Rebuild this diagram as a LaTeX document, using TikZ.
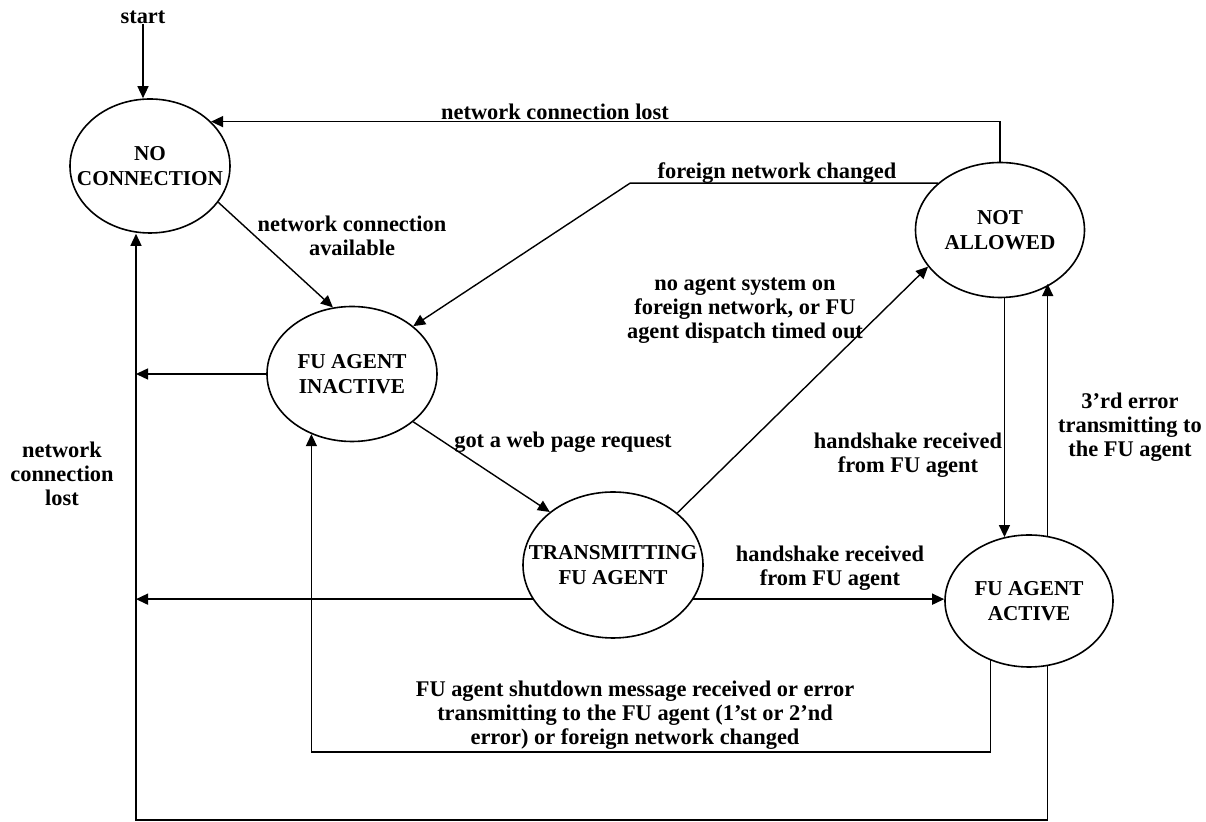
\documentclass[tikz,border=0pt]{standalone}
\usepackage{fontspec}
\setmainfont{Liberation Serif}
\usetikzlibrary{arrows.meta,shapes.geometric}
\tikzset{
  fu diagram/.style={font=\bfseries\fontsize{11.2}{12}\selectfont,
    x=0.5pt, y=-0.5pt, line width=0.7pt},
  fu state/.style={draw, ellipse, inner sep=0pt, line width=0.8pt},
  fu name/.style={align=center, inner sep=0pt,
    font=\bfseries\fontsize{10.6}{12.5}\selectfont},
  fu arrow/.style={-{Triangle[length=6pt,width=5.5pt]}, line width=0.7pt},
  fu label/.style={align=center, inner sep=0pt}
}

\begin{document}
\begin{tikzpicture}[fu diagram]
\useasboundingbox (0,0) rectangle (1206,822);
\node[fu state, minimum width=80pt, minimum height=67pt,
  label={[fu name]center:NO\\CONNECTION}] (nocon) at (150,166) {};
\node[fu state, minimum width=85pt, minimum height=67.5pt,
  label={[fu name]center:FU AGENT\\INACTIVE}] (inact) at (352,374) {};
\node[fu state, minimum width=90pt, minimum height=73pt,
  label={[fu name]center:TRANSMITTING\\FU AGENT}] (trans) at (613,565) {};
\node[fu state, minimum width=84.5pt, minimum height=67.5pt,
  label={[fu name]center:NOT\\ALLOWED}] (notal) at (1000,230) {};
\node[fu state, minimum width=84pt, minimum height=66pt,
  label={[fu name]center:FU AGENT\\ACTIVE}] (active) at (1029,601) {};
\node[fu label] (start) at (143,17) {start};
\coordinate (leftrail) at (136,820);
\coordinate (fnbend) at (630,184);
\coordinate (shutdn) at (650,752);
\draw[fu arrow] (start) -- (start |- nocon.north);
\draw[fu arrow] (notal.north) |- (nocon.36);
\draw[fu arrow] (notal.143) -- (fnbend |- notal.143) -- (inact.38);
\draw[fu arrow] (nocon.-28) -- (inact.106);
\draw[fu arrow] (inact.west) -- (inact.west -| leftrail);
\draw[fu arrow] (inact.-38) -- (trans.140);
\draw[fu arrow] (trans.39) -- (notal.207);
\draw[fu arrow] (trans.-23) -- (trans.-23 -| active.west);
\draw[fu arrow] (trans.203) -- (trans.203 -| leftrail);
\draw[fu arrow] (notal.south -| active.111) -- (active.111);
\draw[fu arrow] (active.74) -- (active.74 |- notal.-46);
\draw[fu arrow] (active.-123) |- (shutdn) -| (inact.-124);
\draw[fu arrow] (active.-74) |- (leftrail) -- (leftrail |- nocon.south);
\node[fu label] (lblTopLost) at (555,112) {network connection lost};
\node[fu label] (lblForeign) at (777,173) {foreign network changed};
\node[fu label] (lblAvail) at (352,236) {network connection\\available};
\node[fu label] (lblWeb) at (563,442) {got a web page request};
\node[fu label] (lblNoAgent) at (745,311) {no agent system on\\foreign network, or FU\\agent dispatch timed out};
\node[fu label] (lblHsMid) at (830,568) {handshake received\\from FU agent};
\node[fu label] (lblHsRight) at (908,455) {handshake received\\from FU agent};
\node[fu label] (lblThird) at (1130,427) {3'rd error\\transmitting to\\the FU agent};
\node[fu label] (lblShut) at (635,715) {FU agent shutdown message received or error\\transmitting to the FU agent (1'st or 2'nd\\error) or foreign network changed};
\node[fu label] (lblLeftLost) at (62,474) {network\\connection\\lost};
\end{tikzpicture}
\end{document}
